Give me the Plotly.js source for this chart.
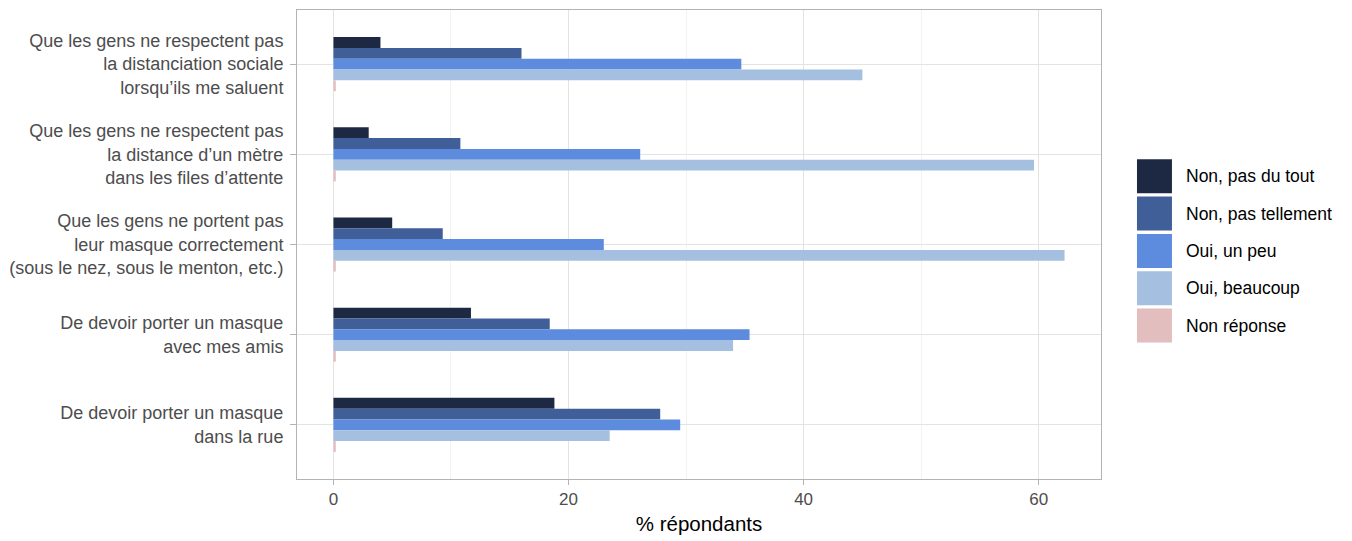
<!DOCTYPE html>
<html>
<head>
<meta charset="utf-8">
<script src="https://cdn.plot.ly/plotly-3.0.1.min.js"></script>
<style>html,body{margin:0;padding:0;background:#fff;}#chart{width:1352px;height:541px;}</style>
</head>
<body>
<div id="chart"></div>
<script>
const categories = [
  "Que les gens ne respectent pas<br>la distanciation sociale<br>lorsqu’ils me saluent",
  "Que les gens ne respectent pas<br>la distance d’un mètre<br>dans les files d’attente",
  "Que les gens ne portent pas<br>leur masque correctement<br>(sous le nez, sous le menton, etc.)",
  "De devoir porter un masque<br>avec mes amis",
  "De devoir porter un masque<br>dans la rue"
];
const seriesNames = ["Non, pas du tout", "Non, pas tellement", "Oui, un peu", "Oui, beaucoup", "Non réponse"];
const nonPasDuTout    = [4.0, 3.0, 5.0, 11.7, 18.8];
const nonPasTellement = [16.0, 10.8, 9.3, 18.4, 27.8];
const ouiUnPeu        = [34.7, 26.1, 23.0, 35.4, 29.5];
const ouiBeaucoup     = [45.0, 59.6, 62.2, 34.0, 23.5];
const nonReponse      = [0.2, 0.2, 0.2, 0.2, 0.2];
const seriesValues = [nonPasDuTout, nonPasTellement, ouiUnPeu, ouiBeaucoup, nonReponse];
const colors = ["#1d2943", "#405e97", "#5d8bdd", "#a5bfe0", "#e2bebe"];
const xTickVals = [0, 20, 40, 60];
const xTitle = "% répondants";

const W = 1352, H = 541;
const L = 297, R = 1101.5, T = 10, B = 479;
const px2x = p => (p - L) / (R - L);
const px2y = p => (B - p) / (B - T);
const FONT = "Liberation Sans, Arial, sans-serif";

const traces = seriesNames.map((name, i) => ({
  type: "bar",
  orientation: "h",
  name: name,
  y: categories,
  x: seriesValues[i],
  marker: {color: colors[i], line: {width: 0}},
  showlegend: false,
  hoverinfo: "x+name"
}));

const shapes = [];
const annotations = [];
const legTop = 159.3, legStep = 37.3, legSize = 34;
seriesNames.forEach((name, i) => {
  const y0 = legTop + i * legStep;
  shapes.push({
    type: "rect", xref: "paper", yref: "paper",
    x0: px2x(1137.5), x1: px2x(1172.5),
    y0: px2y(y0 + legSize), y1: px2y(y0),
    fillcolor: colors[i], line: {width: 0}
  });
  annotations.push({
    xref: "paper", yref: "paper",
    x: px2x(1185), y: px2y(y0 + legSize / 2),
    xanchor: "left", yanchor: "middle",
    text: name, showarrow: false,
    font: {family: FONT, size: 17.5, color: "#000"}
  });
});

const layout = {
  width: W, height: H,
  margin: {l: L, r: W - R, t: T, b: H - B, pad: 0},
  paper_bgcolor: "#fff",
  plot_bgcolor: "#fff",
  barmode: "group",
  bargap: 0.4,
  bargroupgap: 0,
  showlegend: false,
  xaxis: {
    range: [-3.1, 65.3],
    tickvals: xTickVals,
    ticktext: xTickVals.map(String),
    ticks: "outside", ticklen: 5, tickcolor: "#b3b3b3", tickwidth: 1,
    showline: true, mirror: true, linecolor: "#b3b3b3", linewidth: 1,
    showgrid: true, gridcolor: "#e3e3e3", gridwidth: 1,
    minor: {tick0: 0, dtick: 10, showgrid: true, gridcolor: "#f2f2f2", gridwidth: 1, ticks: ""},
    zeroline: false,
    tickfont: {family: FONT, size: 17, color: "#4d4d4d"},
    title: {text: xTitle, standoff: 8, font: {family: FONT, size: 20.5, color: "#000"}}
  },
  yaxis: {
    type: "category",
    range: [4.6, -0.6],
    ticks: "outside", ticklen: 6, tickcolor: "#b3b3b3", tickwidth: 1,
    ticklabelstandoff: 3,
    showline: true, mirror: true, linecolor: "#b3b3b3", linewidth: 1,
    showgrid: true, gridcolor: "#e3e3e3", gridwidth: 1,
    zeroline: false,
    tickfont: {family: FONT, size: 18, color: "#4d4d4d"}
  },
  shapes: shapes,
  annotations: annotations
};

Plotly.newPlot("chart", traces, layout, {displayModeBar: false});
</script>
</body>
</html>
